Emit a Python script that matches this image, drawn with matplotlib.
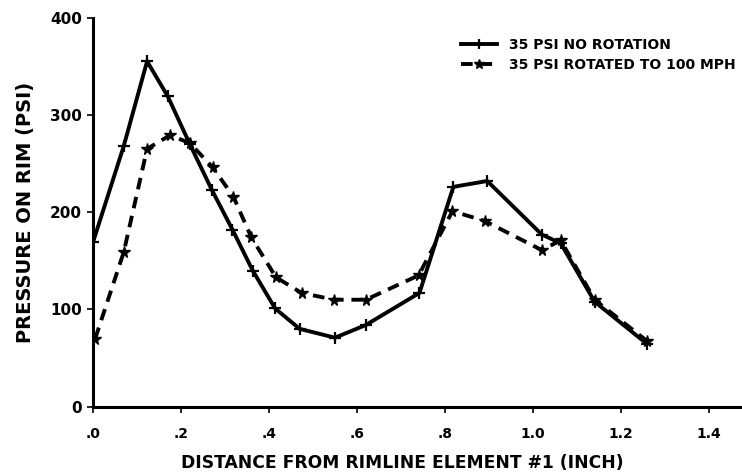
import matplotlib.pyplot as plt

# datos
dist = [0.0, 0.07, 0.123, 0.17, 0.22, 0.27, 0.317, 0.363, 0.414, 0.47,
        0.55, 0.62, 0.742, 0.819, 0.896, 1.02, 1.063, 1.14, 1.258]
no_rotation = [169, 268, 355, 319, 270, 223, 182, 140, 101, 80,
               71, 84, 117, 226, 232, 177, 168, 108, 65]
dist_rot = [0.005, 0.07, 0.123, 0.175, 0.22, 0.272, 0.319, 0.36, 0.416, 0.474,
            0.548, 0.62, 0.74, 0.817, 0.89, 1.02, 1.063, 1.14, 1.258]
rotated = [70, 159, 265, 279, 271, 246, 216, 174, 133, 117,
           110, 110, 135, 201, 191, 161, 171, 110, 68]

x_ticks = [0.0, 0.2, 0.4, 0.6, 0.8, 1.0, 1.2, 1.4]
x_labels = ['.0', '.2', '.4', '.6', '.8', '1.0', '1.2', '1.4']
y_ticks = [0, 100, 200, 300, 400]

plt.rcParams['font.family'] = ['DejaVu Sans']
plt.rcParams['font.weight'] = 'bold'

fig = plt.figure(figsize=(7.42, 4.73), dpi=100)
ax = fig.add_axes([0.1253, 0.140, 0.8747, 0.823])

ax.plot(dist, no_rotation, color='black', lw=2.8, marker='+', ms=8.5, mew=1.6,
        label='35 PSI NO ROTATION')
ax.plot(dist_rot, rotated, color='black', lw=2.8, ls=(0, (3, 2)), marker='*', ms=8.5,
        label='35 PSI ROTATED TO 100 MPH')

ax.set_xlim(0, 1.475)
ax.set_ylim(0, 400)
ax.set_xticks(x_ticks)
ax.set_xticklabels(x_labels)
ax.set_yticks(y_ticks)
ax.spines['top'].set_visible(False)
ax.spines['right'].set_visible(False)
ax.spines['left'].set_linewidth(2.2)
ax.spines['bottom'].set_linewidth(2.2)
ax.tick_params(direction='out', length=4, width=1.2)
ax.tick_params(axis='x', labelsize=10, pad=10.5)
ax.tick_params(axis='y', labelsize=11, pad=4)

ax.set_xlabel('DISTANCE FROM RIMLINE ELEMENT #1 (INCH)', fontsize=12.3, fontweight='bold')
ax.xaxis.set_label_coords(0.476, -0.122)
ax.set_ylabel('PRESSURE ON RIM (PSI)', fontsize=14, fontweight='bold')
ax.yaxis.set_label_coords(-0.09, 0.5)

ax.legend(loc='upper right', bbox_to_anchor=(1.01, 0.98), frameon=False,
          fontsize=10, handlelength=2.6, handletextpad=0.9, labelspacing=0.45,
          markerscale=0.9)

plt.savefig('out.png', dpi=100)
